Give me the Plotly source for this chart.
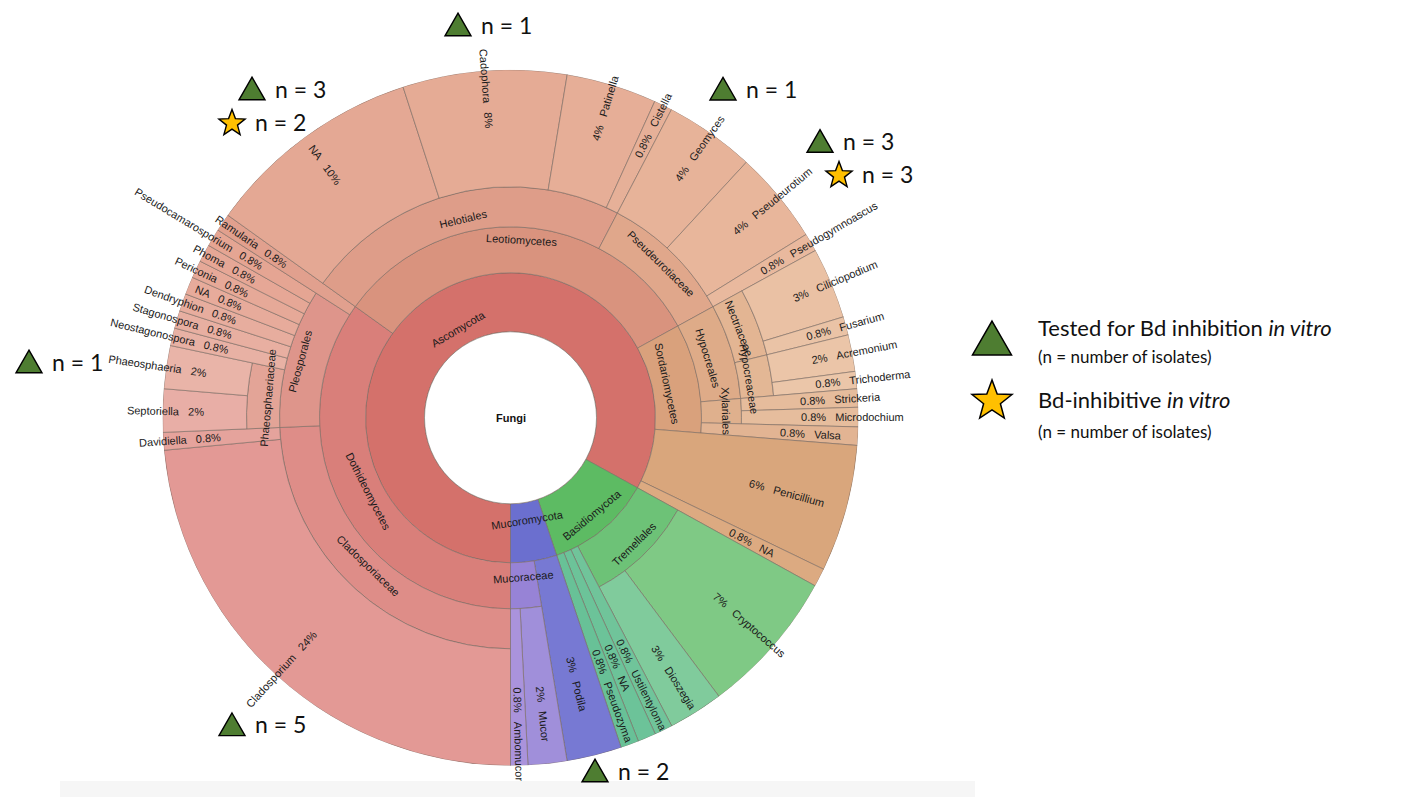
import math
import plotly.graph_objects as go

# ---------------------------------------------------------------- data
node_ids = [
    "Fungi",
    "Ascomycota",
    "Dothideomycetes", "Cladosporiaceae", "Cladosporium", "Davidiella",
    "Pleosporales", "Phaeosphaeriaceae", "Septoriella", "Phaeosphaeria",
    "Neostagonospora", "Stagonospora", "Dendryphion", "Pleosporales NA",
    "Periconia", "Phoma", "Pseudocamarosporium", "Ramularia",
    "Leotiomycetes", "Helotiales", "Helotiales NA", "Cadophora", "Patinella", "Cistella",
    "Pseudeurotiaceae", "Geomyces", "Pseudeurotium", "Pseudogymnoascus",
    "Sordariomycetes", "Hypocreales", "Nectriaceae", "Ciliciopodium", "Fusarium",
    "Hypocreaceae", "Acremonium", "Trichoderma",
    "Xylariales", "Strickeria", "Microdochium", "Valsa",
    "Penicillium", "Ascomycota NA",
    "Basidiomycota", "Tremellales", "Cryptococcus", "Dioszegia",
    "Ustilentyloma", "Basidiomycota NA", "Pseudozyma",
    "Mucoromycota", "Podila", "Mucoraceae", "Mucor", "Ambomucor",
]
node_labels = [
    "Fungi",
    "Ascomycota",
    "Dothideomycetes", "Cladosporiaceae", "Cladosporium", "Davidiella",
    "Pleosporales", "Phaeosphaeriaceae", "Septoriella", "Phaeosphaeria",
    "Neostagonospora", "Stagonospora", "Dendryphion", "NA",
    "Periconia", "Phoma", "Pseudocamarosporium", "Ramularia",
    "Leotiomycetes", "Helotiales", "NA", "Cadophora", "Patinella", "Cistella",
    "Pseudeurotiaceae", "Geomyces", "Pseudeurotium", "Pseudogymnoascus",
    "Sordariomycetes", "Hypocreales", "Nectriaceae", "Ciliciopodium", "Fusarium",
    "Hypocreaceae", "Acremonium", "Trichoderma",
    "Xylariales", "Strickeria", "Microdochium", "Valsa",
    "Penicillium", "NA",
    "Basidiomycota", "Tremellales", "Cryptococcus", "Dioszegia",
    "Ustilentyloma", "NA", "Pseudozyma",
    "Mucoromycota", "Podila", "Mucoraceae", "Mucor", "Ambomucor",
]
node_parents = [
    "",
    "Fungi",
    "Ascomycota", "Dothideomycetes", "Cladosporiaceae", "Cladosporiaceae",
    "Dothideomycetes", "Pleosporales", "Phaeosphaeriaceae", "Phaeosphaeriaceae",
    "Pleosporales", "Pleosporales", "Pleosporales", "Pleosporales",
    "Pleosporales", "Pleosporales", "Pleosporales", "Dothideomycetes",
    "Ascomycota", "Leotiomycetes", "Helotiales", "Helotiales", "Helotiales", "Helotiales",
    "Leotiomycetes", "Pseudeurotiaceae", "Pseudeurotiaceae", "Pseudeurotiaceae",
    "Ascomycota", "Sordariomycetes", "Hypocreales", "Nectriaceae", "Nectriaceae",
    "Hypocreales", "Hypocreaceae", "Hypocreaceae",
    "Sordariomycetes", "Xylariales", "Xylariales", "Sordariomycetes",
    "Ascomycota", "Ascomycota",
    "Fungi", "Basidiomycota", "Tremellales", "Tremellales",
    "Basidiomycota", "Basidiomycota", "Basidiomycota",
    "Fungi", "Mucoromycota", "Mucoromycota", "Mucoraceae", "Mucoraceae",
]
# share of isolates (%) of each leaf; internal nodes are summed from leaves
node_values = [
    0,
    0,
    0, 0, 23.5, 0.82,
    0, 0, 2.0, 2.0,
    0.82, 0.82, 0.82, 0.82,
    0.82, 0.82, 0.82, 0.82,
    0, 0, 10.1, 7.6, 4.2, 0.85,
    0, 4.2, 4.3, 0.85,
    0, 0, 0, 3.3, 0.85,
    0, 1.7, 0.8,
    0, 0.85, 0.9, 0.85,
    5.9, 0.85,
    0, 0, 6.75, 2.55,
    0.84, 0.84, 0.84,
    0, 2.55, 0, 1.8, 0.8,
]
# percentage text printed on each leaf
pct_labels = [
    "",
    "",
    "", "", "24%", "0.8%",
    "", "", "2%", "2%",
    "0.8%", "0.8%", "0.8%", "0.8%",
    "0.8%", "0.8%", "0.8%", "0.8%",
    "", "", "10%", "8%", "4%", "0.8%",
    "", "4%", "4%", "0.8%",
    "", "", "", "3%", "0.8%",
    "", "2%", "0.8%",
    "", "0.8%", "0.8%", "0.8%",
    "6%", "0.8%",
    "", "", "7%", "3%",
    "0.8%", "0.8%", "0.8%",
    "", "3%", "", "2%", "0.8%",
]

# isolate markers: symbol, centre x/y (px), text
mark_kind = ["tri", "tri", "star", "tri", "tri", "star", "tri", "tri", "tri"]
mark_x = [458, 252, 232, 723, 820, 839, 29, 232, 595]
mark_y = [24.5, 88.5, 122, 88.7, 141, 174, 361.5, 724.3, 770.5]
mark_text = ["n = 1", "n = 3", "n = 2", "n = 1", "n = 3", "n = 3", "n = 1", "n = 5", "n = 2"]

legend_titles = ["Tested for Bd inhibition <i>in vitro</i>", "Bd-inhibitive <i>in vitro</i>"]
legend_sub = "(n = number of isolates)"

# ---------------------------------------------------------------- styles
W, H = 1405, 797
CX, CY = 510.5, 417.8
R_OUT = 348
EDGES = [0, 86, 145, 191, 231, 264]

node_colors = {
    "Ascomycota": "#D4716B",
    "Dothideomycetes": "#D97F7A", "Cladosporiaceae": "#DE8D88",
    "Cladosporium": "#E39995", "Davidiella": "#E5A39C",
    "Pleosporales": "#DE958B", "Phaeosphaeriaceae": "#E3A497",
    "Septoriella": "#E8AEA6", "Phaeosphaeria": "#E9B4A8",
    "Neostagonospora": "#E8B1A4", "Stagonospora": "#E8AFA1", "Dendryphion": "#E7AD9E",
    "Pleosporales NA": "#E7AB9B", "Periconia": "#E6A998", "Phoma": "#E6A796",
    "Pseudocamarosporium": "#E5A593", "Ramularia": "#E1A08E",
    "Leotiomycetes": "#D9937E", "Helotiales": "#DE9D89",
    "Helotiales NA": "#E4A894", "Cadophora": "#E5AB95", "Patinella": "#E6AE97", "Cistella": "#E6B098",
    "Pseudeurotiaceae": "#E0A78B", "Geomyces": "#E7B399", "Pseudeurotium": "#E8B69B",
    "Pseudogymnoascus": "#E9B99E",
    "Sordariomycetes": "#D9A17C", "Hypocreales": "#DEAB88", "Nectriaceae": "#E3B593",
    "Ciliciopodium": "#EAC1A4", "Fusarium": "#EAC3A6", "Hypocreaceae": "#E3B795",
    "Acremonium": "#EBC5A8", "Trichoderma": "#EBC6A9",
    "Xylariales": "#DFB08D", "Strickeria": "#E6BC9C", "Microdochium": "#E6BD9D",
    "Valsa": "#E2B493",
    "Penicillium": "#D9A67C", "Ascomycota NA": "#DCAA81",
    "Basidiomycota": "#5DBB63", "Tremellales": "#6DC277",
    "Cryptococcus": "#7FC985", "Dioszegia": "#80CB9C",
    "Ustilentyloma": "#70C49A", "Basidiomycota NA": "#6CC399", "Pseudozyma": "#68C197",
    "Mucoromycota": "#6B6FCF", "Podila": "#7779D3", "Mucoraceae": "#9783D6",
    "Mucor": "#A08FDA", "Ambomucor": "#AA93DC",
}
label_radius = {
    "Ascomycota": 103, "Basidiomycota": 127, "Mucoromycota": 104,
    "Dothideomycetes": 160, "Leotiomycetes": 178, "Sordariomycetes": 160,
    "Tremellales": 177, "Mucoraceae": 160,
    "Cladosporiaceae": 205, "Pleosporales": 218, "Helotiales": 204,
    "Pseudeurotiaceae": 216, "Hypocreales": 206, "Xylariales": 216,
    "Phaeosphaeriaceae": 243, "Nectriaceae": 246, "Hypocreaceae": 242,
}
FONT = "Liberation Sans, Arial, Helvetica, sans-serif"
FS = 11
TXT = "#1a1a1a"

HELV = dict(zip("abcdefghijklmnopqrstuvwxyz",
                [556, 556, 500, 556, 556, 278, 556, 556, 222, 222, 500, 222, 833,
                 556, 556, 556, 556, 333, 500, 278, 556, 500, 722, 500, 500, 500]))
HELV.update(zip("ABCDEFGHIJKLMNOPQRSTUVWXYZ",
                [667, 667, 722, 722, 667, 611, 778, 722, 278, 500, 667, 556, 833,
                 722, 778, 667, 778, 722, 667, 611, 722, 667, 944, 667, 667, 611]))
HELV.update({c: 556 for c in "0123456789"})
HELV.update({" ": 278, "\u00a0": 278, ".": 278, "%": 889, "-": 333})


def text_w(s, size):
    return sum(HELV.get(ch, 556) for ch in s) * size / 1000.0


# ---------------------------------------------------------------- layout of the hierarchy
children = {n: [] for n in node_ids}
for n, p in zip(node_ids, node_parents):
    if p:
        children[p].append(n)
val = dict(zip(node_ids, node_values))
lab = dict(zip(node_ids, node_labels))
pct = dict(zip(node_ids, pct_labels))


def subtotal(n):
    if children[n]:
        return sum(subtotal(c) for c in children[n])
    return val[n]


tot = {n: subtotal(n) for n in node_ids}
grand = tot["Fungi"]
start, depth = {}, {}


def place(n, s, d):
    start[n] = s
    depth[n] = d
    for c in children[n]:
        place(c, s, d + 1)
        s += tot[c] / grand * 360.0


place("Fungi", 0.0, 0)

thetas, widths, bases, lengths, colors = [], [], [], [], []
annotations = []


def to_xy(a_deg, r):
    a = math.radians(a_deg)
    return CX + r * math.cos(a), CY - r * math.sin(a)


for n in node_ids:
    if n == "Fungi":
        continue
    d = depth[n]
    w = tot[n] / grand * 360.0
    th = start[n] + w / 2
    r0 = EDGES[d]
    r1 = EDGES[d + 1] if children[n] else R_OUT
    thetas.append(th)
    widths.append(w)
    bases.append(r0)
    lengths.append(r1 - r0)
    colors.append(node_colors[n])

    a = 270.0 - th                      # mathematical angle of the wedge centre
    a_n = (a + 180.0) % 360.0 - 180.0   # in (-180, 180]
    if children[n]:
        r = label_radius.get(n, (r0 + r1) / 2)
        x, y = to_xy(a, r)
        if math.sin(math.radians(a)) >= 0:
            ang = 90.0 - a_n
        else:
            ang = 270.0 - (a % 360.0)
        annotations.append(dict(x=x, y=y, xref="x", yref="y", text=lab[n], showarrow=False,
                                textangle=ang, xanchor="center", yanchor="middle",
                                font=dict(family=FONT, size=FS, color=TXT)))
    else:
        gap = "\u00a0\u00a0\u00a0"
        right = -90.0 <= a_n <= 90.0
        txt = (pct[n] + gap + lab[n]) if right else (lab[n] + gap + pct[n])
        tw = text_w(txt, FS)
        rs = (r0 + R_OUT) / 2 + 1
        x, y = to_xy(a, rs + tw / 2)
        ang = -a_n if right else 180.0 - (a % 360.0)
        annotations.append(dict(x=x, y=y, xref="x", yref="y", text=txt, showarrow=False,
                                textangle=ang, xanchor="center", yanchor="middle",
                                font=dict(family=FONT, size=FS, color=TXT)))

fig = go.Figure()
fig.add_trace(go.Barpolar(
    theta=thetas, width=widths, base=bases, r=lengths,
    marker=dict(color=colors, line=dict(color="rgba(120,105,98,0.75)", width=0.8)),
    hoverinfo="skip", showlegend=False,
))
fig.add_trace(go.Scatter(x=[0], y=[0], mode="markers", marker=dict(opacity=0),
                         hoverinfo="skip", showlegend=False))

shapes = []
# centre (root) circle
shapes.append(dict(type="circle", xref="x", yref="y", x0=CX - EDGES[1], x1=CX + EDGES[1],
                   y0=CY - EDGES[1], y1=CY + EDGES[1], fillcolor="white",
                   line=dict(color="rgba(120,105,98,0.75)", width=0.8), layer="above"))
annotations.append(dict(x=CX, y=CY, xref="x", yref="y", text="<b>Fungi</b>", showarrow=False,
                        font=dict(family=FONT, size=FS, color="#111")))

# faint grey strip at the bottom of the page
shapes.append(dict(type="rect", xref="x", yref="y", x0=60, x1=975, y0=781, y1=797,
                   fillcolor="#F6F6F6", line=dict(width=0), layer="below"))

GREEN, GOLD = "#4E7D31", "#FFC000"


def tri_path(x, y, s):
    h = s * math.sqrt(3) / 2
    return f"M {x:.1f},{y - h / 2:.1f} L {x + s / 2:.1f},{y + h / 2:.1f} L {x - s / 2:.1f},{y + h / 2:.1f} Z"


def star_path(x, y, R):
    ri = R * 0.42
    y = y + 0.0955 * R
    pts = []
    for k in range(10):
        rr = R if k % 2 == 0 else ri
        ang = math.radians(90 + 36 * k)
        pts.append((x + rr * math.cos(ang), y - rr * math.sin(ang)))
    return "M " + " L ".join(f"{px:.1f},{py:.1f}" for px, py in pts) + " Z"


for kind, mx, my, mt in zip(mark_kind, mark_x, mark_y, mark_text):
    if kind == "tri":
        path, fc, half = tri_path(mx, my, 26), GREEN, 13
    else:
        path, fc, half = star_path(mx, my, 13.8), GOLD, 13
    shapes.append(dict(type="path", xref="x", yref="y", path=path, fillcolor=fc,
                       line=dict(color="black", width=1.4), layer="above"))
    annotations.append(dict(x=mx + half + 8, y=my, xref="x", yref="y", text=mt, showarrow=False,
                            xanchor="left", yanchor="middle",
                            font=dict(family="Lato, Open Sans, sans-serif", size=23, color="#111")))

# legend
shapes.append(dict(type="path", xref="x", yref="y", path=tri_path(992, 338, 39), fillcolor=GREEN,
                   line=dict(color="black", width=1.5), layer="above"))
shapes.append(dict(type="path", xref="x", yref="y", path=star_path(992, 399, 21), fillcolor=GOLD,
                   line=dict(color="black", width=1.5), layer="above"))
for ty, sy, title in zip([327, 399], [356, 431], legend_titles):
    annotations.append(dict(x=1036, y=ty, xref="x", yref="y", text=title, showarrow=False,
                            xanchor="left", yanchor="middle",
                            font=dict(family="Lato, Open Sans, sans-serif", size=22, color="#111")))
    annotations.append(dict(x=1036, y=sy, xref="x", yref="y", text=legend_sub, showarrow=False,
                            xanchor="left", yanchor="middle",
                            font=dict(family="Lato, Open Sans, sans-serif", size=17, color="#111")))

fig.update_layout(
    width=W, height=H, margin=dict(l=0, r=0, t=0, b=0),
    paper_bgcolor="white", plot_bgcolor="rgba(0,0,0,0)",
    polar=dict(
        domain=dict(x=[(CX - R_OUT) / W, (CX + R_OUT) / W],
                    y=[1 - (CY + R_OUT) / H, 1 - (CY - R_OUT) / H]),
        bgcolor="rgba(0,0,0,0)",
        angularaxis=dict(rotation=270, direction="clockwise", visible=False, showgrid=False),
        radialaxis=dict(range=[0, R_OUT], visible=False, showgrid=False),
        hole=0,
    ),
    xaxis=dict(range=[0, W], visible=False, domain=[0, 1], fixedrange=True),
    yaxis=dict(range=[H, 0], visible=False, domain=[0, 1], fixedrange=True),
    shapes=shapes,
    annotations=annotations,
)

fig.write_html("out.html", config={"displayModeBar": False},
               post_script="document.body.style.margin='0px';document.body.style.overflow='hidden';")
